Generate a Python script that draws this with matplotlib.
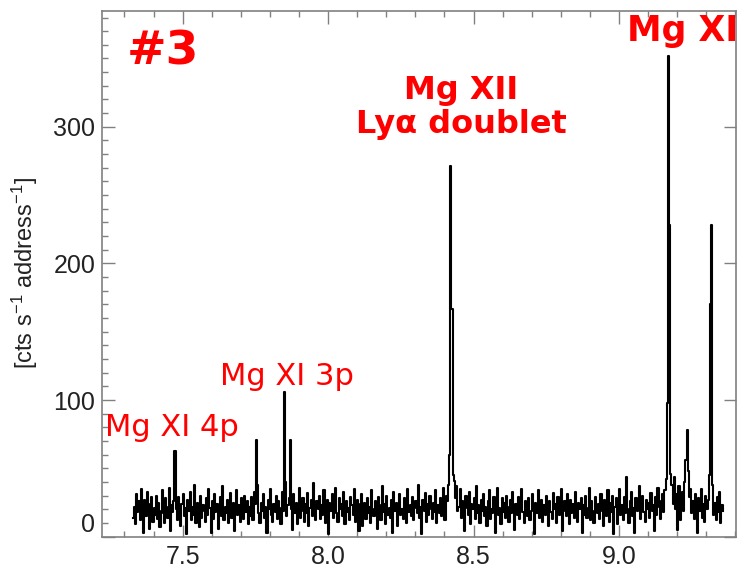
import numpy as np
import matplotlib
matplotlib.use("Agg")
import matplotlib.pyplot as plt

plt.rcParams['font.family'] = ['Liberation Sans', 'DejaVu Sans']
plt.rcParams['mathtext.fontset'] = 'custom'
plt.rcParams['mathtext.rm'] = 'Liberation Sans'
plt.rcParams['mathtext.it'] = 'Liberation Sans:italic'

# wavelength grid of the spectrum channels (Angstrom)
wl_start = 7.33
wl_step = 0.004

# counts per channel
counts = [
    14, 22, 9, 31, 18, 26, 12, 35, 20, 3, 27, 15, 33, 19, 6, 24, 29, 11, 21, 16,
    30, 13, 25, 7, 19, 34, 17, 10, 28, 22, 14, 36, 4, 23, 18, 26, 63, 20, 12, 29,
    17, 8, 24, 31, 15, 21, 2, 27, 19, 33, 12, 22, 16, 38, 10, 25, 18, 7, 30, 14,
    23, 19, 11, 28, 16, 35, 21, 3, 26, 13, 31, 18, 24, 6, 20, 29, 15, 37, 12, 22,
    17, 27, 10, 20, 32, 14, 25, 4, 19, 34, 16, 23, 11, 28, 21, 13, 30, 18, 26, 9,
    22, 15, 29, 12, 33, 24, 71, 38, 17, 10, 25, 19, 31, 14, 22, 3, 27, 20, 35, 16,
    11, 24, 18, 30, 13, 26, 21, 9, 33, 19, 106, 40, 15, 23, 28, 71, 20, 5, 31, 17,
    25, 9, 22, 36, 14, 19, 28, 11, 24, 17, 32, 8, 21, 27, 15, 39, 18, 12, 26, 20,
    30, 13, 23, 16, 34, 10, 21, 27, 2, 25, 19, 31, 14, 22, 36, 17, 11, 28, 20, 24,
    15, 33, 9, 26, 18, 21, 12, 29, 23, 16, 35, 11, 20, 27, 4, 24, 31, 8, 19, 25,
    13, 28, 17, 22, 10, 34, 20, 15, 26, 19, 6, 29, 23, 12, 37, 18, 24, 9, 30, 16,
    21, 14, 27, 3, 33, 19, 25, 8, 22, 31, 16, 20, 13, 28, 24, 10, 35, 18, 23, 15,
    29, 12, 21, 26, 17, 38, 14, 22, 2, 27, 19, 32, 11, 24, 16, 30, 20, 13, 25, 18,
    34, 10, 23, 17, 28, 15, 21, 36, 12, 30, 26, 38, 60, 271, 167, 45, 41, 28, 37, 19,
    22, 35, 14, 26, 18, 4, 30, 21, 16, 33, 9, 24, 20, 28, 13, 37, 17, 23, 10, 27,
    19, 31, 15, 22, 8, 26, 34, 13, 20, 17, 29, 3, 24, 36, 16, 21, 9, 28, 18, 25,
    14, 30, 22, 11, 27, 17, 33, 20, 5, 24, 16, 29, 13, 21, 35, 18, 10, 26, 23, 15,
    28, 12, 19, 31, 22, 2, 25, 17, 34, 14, 20, 27, 11, 23, 16, 30, 21, 8, 26, 18,
    13, 32, 20, 24, 10, 29, 16, 22, 35, 4, 19, 26, 15, 31, 21, 9, 27, 17, 24, 14,
    33, 18, 11, 25, 20, 28, 3, 23, 16, 30, 14, 21, 36, 12, 26, 19, 10, 29, 22, 17,
    24, 13, 31, 19, 8, 27, 21, 15, 34, 11, 25, 18, 30, 2, 22, 28, 9, 20, 35, 16,
    23, 12, 29, 17, 44, 20, 10, 26, 33, 15, 21, 3, 28, 19, 24, 37, 13, 22, 30, 18,
    11, 27, 20, 25, 14, 32, 19, 23, 4, 29, 16, 36, 22, 13, 26, 31, 18, 34, 42, 98,
    352, 228, 46, 38, 24, 44, 20, 31, 5, 37, 12, 27, 33, 19, 40, 56, 78, 48, 29, 35,
    17, 26, 13, 31, 22, 3, 28, 19, 35, 14, 24, 11, 30, 20, 27, 45, 170, 228, 38, 16,
    25, 12, 29, 18, 33, 10, 23, 19,
]

wavelength = wl_start + wl_step * np.arange(len(counts))

fig = plt.figure(figsize=(7.43, 5.68), dpi=100)
ax = fig.add_axes([0.1377, 0.0551, 0.8529, 0.9261])

ax.step(wavelength, counts, where='mid', color='black', lw=1.5)

ax.set_xlim(7.224, 9.402)
ax.set_ylim(0, 385)
ax.set_xticks([7.5, 8.0, 8.5, 9.0])
ax.set_xticklabels(['7.5', '8.0', '8.5', '9.0'])
ax.set_yticks([0, 100, 200, 300])
ax.set_xticks(np.arange(7.3, 9.41, 0.1), minor=True)
ax.set_yticks(np.arange(0, 381, 10), minor=True)

for s in ax.spines.values():
    s.set_color('0.5')
    s.set_linewidth(1.2)
ax.tick_params(which='both', direction='in', top=True, right=True,
               color='0.5', width=1.0, labelsize=18, labelcolor='#222222')
ax.tick_params(which='major', length=9)
ax.tick_params(which='minor', length=4.5)
ax.tick_params(which='minor', right=False)
ax.tick_params(axis='x', pad=6)
ax.tick_params(axis='y', pad=5)
ax.get_yticklabels()[0].set_va('bottom')

fig.text(0.034, 0.52, r'[cts s$^{-1}$ address$^{-1}$]', rotation=90,
         ha='center', va='center', fontsize=17, color='#222222')

red = '#ff0000'
ax.text(7.433, 355, '#3', color=red, fontsize=34, fontweight='bold',
        ha='center', va='center', family='DejaVu Sans')
ax.text(8.457, 314, 'Mg XII\nLy\u03b1 doublet', color=red, fontsize=23,
        fontweight='bold', ha='center', va='center', family='DejaVu Sans',
        linespacing=1.15)
ax.text(9.218, 370, 'Mg XI', color=red, fontsize=25, fontweight='bold',
        ha='center', va='center', family='DejaVu Sans')
ax.text(7.858, 117.5, 'Mg XI 3p', color=red, fontsize=22,
        ha='center', va='center', family='DejaVu Sans')
ax.text(7.464, 80, 'Mg XI 4p', color=red, fontsize=22,
        ha='center', va='center', family='DejaVu Sans')

fig.savefig('out.png', dpi=100)
